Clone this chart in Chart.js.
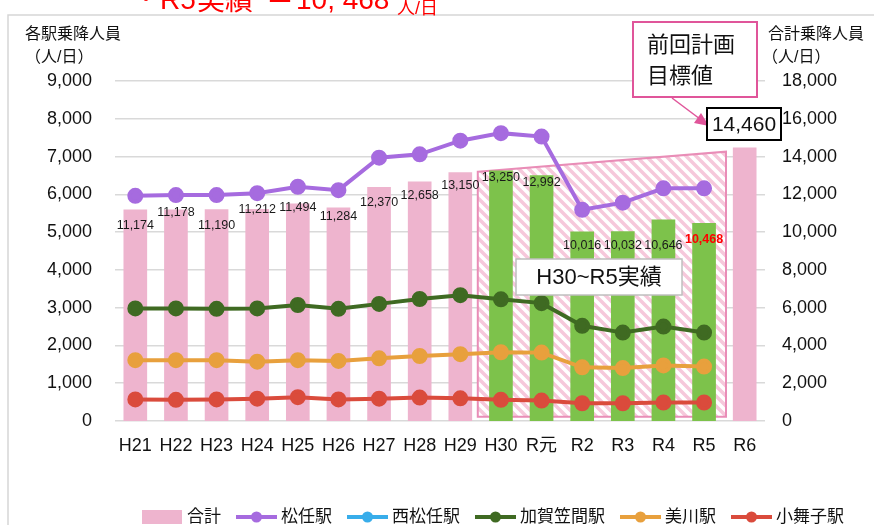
<!DOCTYPE html>
<html>
<head>
<meta charset="utf-8">
<script src="https://cdn.jsdelivr.net/npm/chart.js@4.4.1/dist/chart.umd.min.js"></script>
<style>
  html, body { margin: 0; padding: 0; background: #fff; }
</style>
</head>
<body>
<canvas id="chart" width="874" height="525"></canvas>
<script>
// --- data ---
const categories = ['H21','H22','H23','H24','H25','H26','H27','H28','H29','H30','R元','R2','R3','R4','R5','R6'];
const totalRiders = [11174,11178,11190,11212,11494,11284,12370,12658,13150,13250,12992,10016,10032,10646,10468,14460];
const matsuto     = [5960,5980,5980,6030,6200,6110,6970,7060,7420,7620,7530,5590,5780,6160,6160,null];
const nishiMatsuto = [];
const kagaKasama  = [2980,2980,2970,2980,3070,2970,3100,3230,3330,3220,3120,2520,2340,2500,2340,null];
const mikawa      = [1610,1610,1610,1570,1610,1590,1660,1720,1770,1820,1810,1420,1400,1470,1440,null];
const komaiko     = [570,560,570,590,630,570,590,620,600,560,540,470,470,490,490,null];
const actualYears = ['H30','R元','R2','R3','R4','R5'];
const planTarget = 14460;
// trend band drawn over H30~R5 (index range, right-axis values)
const bandFrom = 8.43, bandTo = 14.54;
const bandLeftTop = 13200, bandRightTop = 14260, bandBottom = 230;

// label nudges below the bar top (px), as in the original layout
const labelDy = [16,3,16,0,4,9,15,14,13,7,7,14,14,26,16];

const FONT = "'Liberation Sans', Arial, 'Noto Sans CJK JP', sans-serif";
const PINK = '#EEB4CE', GREEN = '#7DC24B';

const barColors = categories.map(c => actualYears.includes(c) ? GREEN : PINK);

function hatch() {
  const c = document.createElement('canvas');
  c.width = 10; c.height = 10;
  const g = c.getContext('2d');
  g.fillStyle = '#fff';
  g.fillRect(0, 0, 10, 10);
  g.strokeStyle = '#F6C8DB';
  g.lineWidth = 3.5;
  g.beginPath();
  g.moveTo(-5, 5); g.lineTo(5, 15);
  g.moveTo(0, 0); g.lineTo(10, 10);
  g.moveTo(5, -5); g.lineTo(15, 5);
  g.stroke();
  return c;
}

const decor = {
  id: 'decor',
  beforeDraw(chart) {
    const ctx = chart.ctx;
    ctx.save();
    ctx.strokeStyle = '#D6D6D6';
    ctx.lineWidth = 1.5;
    ctx.strokeRect(8, 15, 900, 600);
    ctx.restore();
  },
  beforeDatasetsDraw(chart) {
    const ctx = chart.ctx, x = chart.scales.x, y2 = chart.scales.y2;
    const l = x.getPixelForValue(bandFrom), r = x.getPixelForValue(bandTo);
    ctx.save();
    ctx.beginPath();
    ctx.moveTo(l, y2.getPixelForValue(bandLeftTop));
    ctx.lineTo(r, y2.getPixelForValue(bandRightTop));
    ctx.lineTo(r, y2.getPixelForValue(bandBottom));
    ctx.lineTo(l, y2.getPixelForValue(bandBottom));
    ctx.closePath();
    ctx.fillStyle = ctx.createPattern(hatch(), 'repeat');
    ctx.fill();
    ctx.strokeStyle = '#E98DB7';
    ctx.lineWidth = 2;
    ctx.stroke();
    ctx.restore();
  },
  afterDraw(chart) {
    const ctx = chart.ctx;
    const meta = chart.getDatasetMeta(0);
    ctx.save();
    // value labels on total bars
    ctx.textAlign = 'center';
    ctx.textBaseline = 'middle';
    meta.data.forEach((bar, i) => {
      if (i >= labelDy.length) return;
      const last = i === labelDy.length - 1;
      ctx.font = (last ? 'bold ' : '') + '12.5px ' + FONT;
      ctx.fillStyle = last ? '#FF0000' : '#1a1a1a';
      ctx.fillText(totalRiders[i].toLocaleString('en-US'), bar.x, bar.y + labelDy[i]);
    });

    // "H30~R5実績" box
    ctx.fillStyle = '#fff';
    ctx.fillRect(516, 259, 166, 36);
    ctx.strokeStyle = '#BFBFBF';
    ctx.lineWidth = 1.5;
    ctx.strokeRect(516, 259, 166, 36);
    ctx.fillStyle = '#111';
    ctx.font = '22px ' + FONT;
    ctx.fillText('H30~R5実績', 599, 278);

    // plan target callout
    ctx.fillStyle = '#fff';
    ctx.fillRect(633, 22, 124, 75);
    ctx.strokeStyle = '#E0559A';
    ctx.lineWidth = 2;
    ctx.strokeRect(633, 22, 124, 75);
    ctx.fillStyle = '#111';
    ctx.textAlign = 'left';
    ctx.font = '22px ' + FONT;
    ctx.fillText('前回計画', 647, 46);
    ctx.fillText('目標値', 647, 77);
    // arrow
    ctx.strokeStyle = '#E0559A';
    ctx.fillStyle = '#E0559A';
    ctx.lineWidth = 1.5;
    ctx.beginPath();
    ctx.moveTo(672, 98); ctx.lineTo(700, 119);
    ctx.stroke();
    ctx.beginPath();
    ctx.moveTo(709, 126); ctx.lineTo(694, 123); ctx.lineTo(701, 113);
    ctx.closePath();
    ctx.fill();

    // target value box
    ctx.fillStyle = '#fff';
    ctx.fillRect(707, 108, 74, 32);
    ctx.strokeStyle = '#000';
    ctx.lineWidth = 2;
    ctx.strokeRect(707, 108, 74, 32);
    ctx.fillStyle = '#111';
    ctx.textAlign = 'center';
    ctx.font = '21px ' + FONT;
    ctx.fillText(planTarget.toLocaleString('en-US'), 744, 125);

    // axis titles
    ctx.textAlign = 'left';
    ctx.font = '16px ' + FONT;
    ctx.fillText('各駅乗降人員', 25, 35);
    ctx.fillText('（人/日）', 25, 58);
    ctx.fillText('合計乗降人員', 768, 35);
    ctx.fillText('（人/日）', 762, 58);

    // clipped headline at the top
    ctx.fillStyle = '#FF0000';
    ctx.textBaseline = 'alphabetic';
    ctx.font = '28px ' + FONT;
    ctx.fillText('・R5', 132, 9);
    ctx.fillText('実績', 197, 10);
    ctx.fillText('＝', 266, 9);
    ctx.fillText('10, 468', 296, 9);
    ctx.font = '18px ' + FONT;
    ctx.fillText('人/日', 397, 14);

    // legend
    let lx = 142;
    const ly = 517;
    ctx.textBaseline = 'middle';
    ctx.font = '17px ' + FONT;
    chart.data.datasets.forEach(ds => {
      if (ds.type === 'bar') {
        ctx.fillStyle = PINK;
        ctx.fillRect(lx, ly - 7, 40, 14);
      } else {
        ctx.strokeStyle = ds.borderColor;
        ctx.lineWidth = 4;
        ctx.beginPath();
        ctx.moveTo(lx, ly); ctx.lineTo(lx + 41, ly);
        ctx.stroke();
        ctx.fillStyle = ds.borderColor;
        ctx.beginPath();
        ctx.arc(lx + 20.5, ly, 5.5, 0, Math.PI * 2);
        ctx.fill();
      }
      lx += 45;
      ctx.fillStyle = '#111';
      ctx.fillText(ds.label, lx, ly);
      lx += ctx.measureText(ds.label).width + 15;
    });
    ctx.restore();
  }
};

function line(label, data, color) {
  return {
    type: 'line', label, data, yAxisID: 'y', order: 1,
    borderColor: color, backgroundColor: color,
    borderWidth: 4, pointRadius: 6, pointHoverRadius: 6,
    tension: 0
  };
}

new Chart(document.getElementById('chart'), {
  data: {
    labels: categories,
    datasets: [
      { type: 'bar', label: '合計', data: totalRiders, yAxisID: 'y2', order: 2,
        backgroundColor: barColors, barThickness: 23 },
      line('松任駅', matsuto, '#A66BDF'),
      line('西松任駅', nishiMatsuto, '#38ADEA'),
      line('加賀笠間駅', kagaKasama, '#3F6A22'),
      line('美川駅', mikawa, '#E8A03D'),
      line('小舞子駅', komaiko, '#DA4B3C')
    ]
  },
  options: {
    responsive: false,
    animation: false,
    devicePixelRatio: 1,
    layout: { padding: { left: 10, right: 4, top: 81, bottom: 64 } },
    plugins: { legend: { display: false }, tooltip: { enabled: false } },
    scales: {
      x: {
        grid: { display: false },
        border: { display: false },
        ticks: { color: '#111', padding: 6, maxRotation: 0, autoSkip: false,
          font: { family: "'Liberation Sans Narrow', 'Liberation Sans', 'Noto Sans CJK JP'", size: 18 } },
        afterFit: s => { s.height = 40; }
      },
      y: {
        position: 'left', min: 0, max: 9000,
        grid: { color: '#D9D9D9', lineWidth: 1.5, drawTicks: false },
        border: { display: false },
        ticks: { stepSize: 1000, padding: 23, color: '#111',
          font: { family: FONT, size: 18 },
          callback: v => v.toLocaleString('en-US') },
        afterFit: s => { s.width = 105; }
      },
      y2: {
        position: 'right', min: 0, max: 18000,
        grid: { display: false, drawTicks: false },
        border: { display: false },
        ticks: { stepSize: 2000, padding: 17, color: '#111',
          font: { family: FONT, size: 18 },
          callback: v => v.toLocaleString('en-US') },
        afterFit: s => { s.width = 105; }
      }
    }
  },
  plugins: [decor]
});
</script>
</body>
</html>
